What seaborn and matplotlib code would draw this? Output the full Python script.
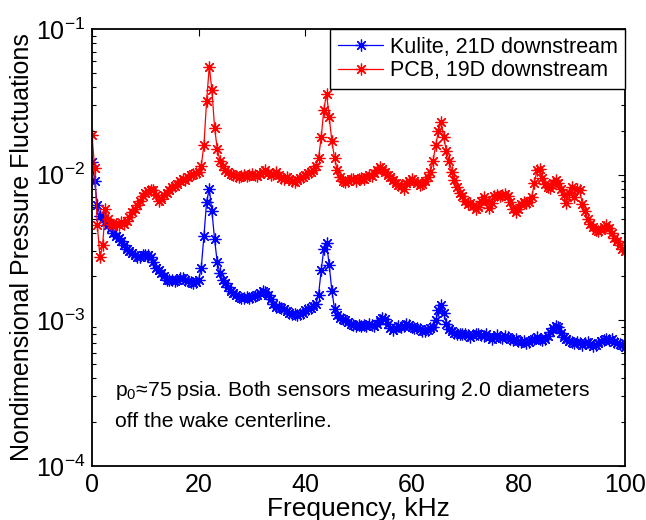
import numpy as np
import pandas as pd
import matplotlib
matplotlib.use("Agg")
import matplotlib.pyplot as plt
import seaborn as sns

# Frequency axis (kHz), 0.5 kHz spacing
freq = np.arange(0, 100.01, 0.5)

kulite = [
    0.0122, 0.0090, 0.0062, 0.0052, 0.0050, 0.0047, 0.0045, 0.0043, 0.0040, 0.0038,
    0.0037, 0.0035, 0.0033, 0.0031, 0.0030, 0.0029, 0.0028, 0.0027, 0.0027, 0.0028,
    0.0028, 0.0028, 0.0027, 0.0025, 0.0023, 0.0022, 0.0021, 0.0020, 0.0019, 0.0019,
    0.00190, 0.00187, 0.00190, 0.00196, 0.00195, 0.00190, 0.00186, 0.00183, 0.00180, 0.00182,
    0.0019, 0.0023, 0.0038, 0.0065, 0.0080, 0.0056, 0.0036, 0.0025, 0.0021, 0.0019,
    0.0018, 0.0017, 0.0016, 0.00155, 0.0015, 0.00145, 0.00142, 0.00143, 0.00145, 0.00143,
    0.00144, 0.00146, 0.00150, 0.00155, 0.00158, 0.00156, 0.0015, 0.0014, 0.0013, 0.00124,
    0.00123, 0.00122, 0.0012, 0.00116, 0.00113, 0.00111, 0.0011, 0.00108, 0.0011, 0.00112,
    0.00118, 0.0012, 0.00122, 0.00125, 0.0013, 0.0015, 0.0022, 0.0031, 0.0034, 0.0024,
    0.0016, 0.0012, 0.00108, 0.00104, 0.00102, 0.0010, 0.00098, 0.00095, 0.00093, 0.00092,
    0.00093, 0.00092, 0.00093, 0.00091, 0.00094, 0.00093, 0.00092, 0.00095, 0.0010, 0.00104,
    0.00102, 0.00095, 0.00089, 0.00086, 0.00088, 0.00091, 0.0009, 0.00092, 0.00094, 0.00093,
    0.0009, 0.00089, 0.00088, 0.00087, 0.00085, 0.00084, 0.00086, 0.00088, 0.0009, 0.0010,
    0.00118, 0.00128, 0.00112, 0.00095, 0.00087, 0.00084, 0.00082, 0.00081, 0.00080, 0.00081,
    0.00080, 0.00079, 0.00077, 0.00079, 0.00081, 0.00080, 0.00079, 0.00078, 0.00080, 0.00077,
    0.00075, 0.00077, 0.00079, 0.00077, 0.00076, 0.00078, 0.00077, 0.00074, 0.00073, 0.00074,
    0.00072, 0.00071, 0.00072, 0.00070, 0.00071, 0.00073, 0.00074, 0.00077, 0.00075, 0.00073,
    0.00074, 0.00078, 0.00083, 0.00088, 0.00092, 0.0009, 0.00082, 0.00077, 0.00074, 0.00072,
    0.00071, 0.0007, 0.00071, 0.00070, 0.00068, 0.00070, 0.00071, 0.00069, 0.00067, 0.00068,
    0.0007, 0.00072, 0.00073, 0.00074, 0.00073, 0.00074, 0.00071, 0.00070, 0.00069, 0.00068,
    0.00066,
]

pcb = [
    0.0187, 0.0111, 0.0045, 0.0027, 0.0033, 0.0058, 0.0050, 0.0046, 0.0045, 0.0046,
    0.0045, 0.0047, 0.0046, 0.0048, 0.0051, 0.0055, 0.0058, 0.0062, 0.0066, 0.0071,
    0.0075, 0.0077, 0.0079, 0.0078, 0.0072, 0.0066, 0.0068, 0.0072, 0.0075, 0.0078,
    0.0082, 0.0084, 0.0086, 0.0090, 0.0093, 0.0092, 0.0096, 0.0099, 0.0101, 0.0102,
    0.0104, 0.0115, 0.0160, 0.0320, 0.0550, 0.0380, 0.0210, 0.0150, 0.0125, 0.0115,
    0.0108, 0.0104, 0.0101, 0.0099, 0.0098, 0.0097, 0.0098, 0.0099, 0.0098, 0.0100,
    0.0101, 0.0099, 0.0098, 0.0101, 0.0104, 0.0107, 0.0103, 0.0099, 0.0101, 0.0104,
    0.0099, 0.0095, 0.0094, 0.0096, 0.0093, 0.0090, 0.0089, 0.0092, 0.0095, 0.0097,
    0.0099, 0.0103, 0.0105, 0.0108, 0.0115, 0.0130, 0.0180, 0.0280, 0.0360, 0.0250,
    0.0170, 0.0130, 0.0108, 0.0096, 0.0090, 0.0089, 0.0091, 0.0093, 0.0094, 0.0090,
    0.0093, 0.0095, 0.0094, 0.0097, 0.0099, 0.0098, 0.0102, 0.0108, 0.0112, 0.0109,
    0.0104, 0.0100, 0.0097, 0.0092, 0.0088, 0.0085, 0.0083, 0.0080, 0.0087, 0.0091,
    0.0093, 0.0090, 0.0088, 0.0085, 0.0086, 0.0090, 0.0097, 0.0105, 0.0125, 0.0160,
    0.0200, 0.0230, 0.0180, 0.0145, 0.0125, 0.0105, 0.0092, 0.0082, 0.0075, 0.0071,
    0.0066, 0.0063, 0.0064, 0.0061, 0.0058, 0.0060, 0.0066, 0.0070, 0.0066, 0.0059,
    0.0064, 0.0071, 0.0073, 0.0071, 0.0072, 0.0074, 0.0071, 0.0065, 0.0058, 0.0055,
    0.0058, 0.0063, 0.0065, 0.0064, 0.0065, 0.0070, 0.0088, 0.0108, 0.0110, 0.0095,
    0.0086, 0.0082, 0.0081, 0.0088, 0.0092, 0.0088, 0.0080, 0.0072, 0.0064, 0.0075,
    0.0082, 0.0070, 0.0080, 0.0078, 0.0063, 0.0056, 0.0050, 0.0046, 0.0044, 0.0042,
    0.0041, 0.0042, 0.0044, 0.0045, 0.0043, 0.0040, 0.0037, 0.0035, 0.0033, 0.0031,
    0.0030,
]

series_names = ["Kulite, 21D downstream", "PCB, 19D downstream"]
series_colors = ["#0000ff", "#ff0000"]
x_ticks = [0, 20, 40, 60, 80, 100]

sns.set_theme(style="white")
plt.rcParams["font.family"] = ["Liberation Sans", "DejaVu Sans"]
plt.rcParams["mathtext.fontset"] = "custom"
plt.rcParams["mathtext.rm"] = "Liberation Sans"
plt.rcParams["mathtext.it"] = "Liberation Sans:italic"
plt.rcParams["mathtext.default"] = "regular"
plt.rcParams["text.color"] = "black"
plt.rcParams["axes.labelcolor"] = "black"
plt.rcParams["xtick.color"] = "black"
plt.rcParams["ytick.color"] = "black"

fig = plt.figure(figsize=(6.46, 5.20), dpi=100)
ax = fig.add_axes([92 / 646, 54 / 520, 533 / 646, 437 / 520])

df = pd.DataFrame({
    "freq": np.concatenate([freq, freq]),
    "value": np.concatenate([kulite, pcb]),
    "sensor": [series_names[0]] * len(freq) + [series_names[1]] * len(freq),
})

for name, col in zip(series_names, series_colors):
    sub = df[df["sensor"] == name]
    sns.lineplot(data=sub, x="freq", y="value", ax=ax, color=col, label=name,
                 marker=(8, 2, 0), markersize=8.5, markeredgewidth=0.9,
                 markeredgecolor=col, markerfacecolor=col, linewidth=0.9,
                 estimator=None, sort=False)

ax.set_yscale("log")
ax.set_xlim(0, 100)
ax.set_ylim(1e-4, 1e-1)
ax.set_xticks(x_ticks)
ax.set_xticklabels([str(t) for t in x_ticks])

for s in ax.spines.values():
    s.set_visible(True)
    s.set_color("black")
    s.set_linewidth(1.3)

ax.tick_params(axis="both", which="both", direction="in", top=True, right=True,
               colors="black", labelsize=18, pad=5)
ax.tick_params(axis="both", which="major", length=5, width=0.8)
ax.tick_params(axis="y", which="minor", length=3, width=0.8, left=True, right=True)

ax.set_xlabel("Frequency, kHz", fontsize=19, labelpad=0)
ax.set_ylabel("Nondimensional Pressure Fluctuations", fontsize=18, labelpad=1)

ax.text(0.043, 0.173, r"p$_0$≈75 psia. Both sensors measuring 2.0 diameters",
        transform=ax.transAxes, fontsize=15.2, va="center", ha="left")
ax.text(0.043, 0.101, "off the wake centerline.",
        transform=ax.transAxes, fontsize=15.2, va="center", ha="left")

leg = ax.legend(loc="upper right", borderaxespad=0, fontsize=15.5, frameon=True,
                fancybox=False, framealpha=1, edgecolor="black",
                handlelength=2.1, borderpad=0.35, labelspacing=0.12,
                handletextpad=0.3)
leg.get_frame().set_linewidth(1.0)

fig.savefig("out.png", dpi=100)
